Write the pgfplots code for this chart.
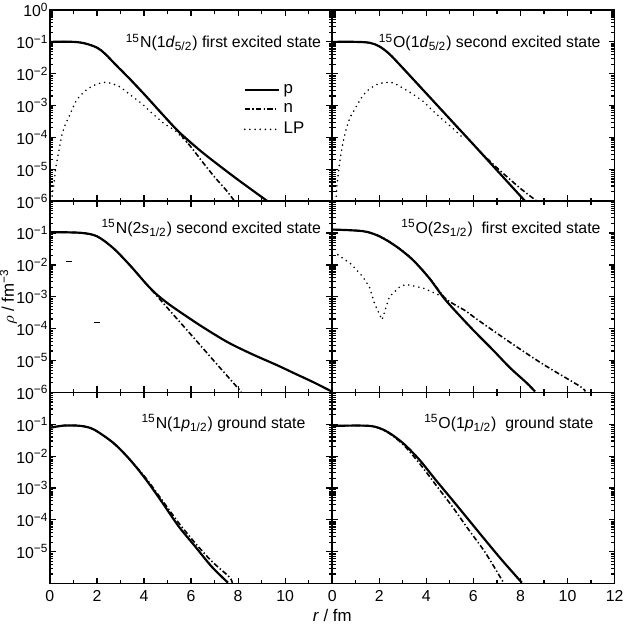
\documentclass[border=0pt]{standalone}
\usepackage{fontspec}
\setmainfont{Liberation Sans}
\usepackage{pgfplots}
\pgfplotsset{compat=1.18}
\usepgfplotslibrary{groupplots}

\newcommand{\tl}[1]{10\textsuperscript{#1}}

\pgfplotsset{
  panel/.style={
    width=142.5pt, height=96.5pt, scale only axis,
    xmin=0, xmax=12, ymode=log, ymin=1e-6, ymax=1,
    xtick={0,2,...,12}, minor x tick num=1,
    ytick={1e-6,1e-5,1e-4,1e-3,1e-2,1e-1,1},
    tick align=inside, major tick length=3pt, minor tick length=1.8pt,
    axis line style={line width=0.8pt},
    every tick/.style={black, line width=0.6pt},
    tick label style={font=\fontsize{8}{10}\selectfont},
    yticklabel style={xshift=1pt, inner sep=1.5pt},
    /pgf/number format/assume math mode=true,
  },
  pp/.style={black, line width=1.1pt, smooth},
  nn/.style={black, line width=0.8pt, smooth, dash pattern=on 2.6pt off 1.2pt on 0.7pt off 1.2pt},
  lp/.style={black, line width=0.9pt, line cap=round, dash pattern=on 0pt off 2.6pt},
}
\tikzset{ttl/.style={anchor=east, font=\fontsize{8}{10}\selectfont}}

\begin{document}
\begin{tikzpicture}
\begin{groupplot}[group style={group size=2 by 3, horizontal sep=0pt, vertical sep=0pt}, panel]

% 15N 1d5/2
\nextgroupplot[xticklabels={},
  yticklabels={\tl{−6},\tl{−5},\tl{−4},\tl{−3},\tl{−2},\tl{−1},\tl{0}},
  legend style={draw=none, fill=none, at={(rel axis cs:0.685,0.635)}, anchor=north west,
    font=\fontsize{8.5}{10}\selectfont, row sep=-0.5pt, inner sep=0pt},
  legend cell align=left]
\addplot[pp] coordinates {(0,1.00e-1) (1.0,1.00e-1) (1.5,8.91e-2) (2.0,6.61e-2) (2.34,4.27e-2)
  (2.8,1.91e-2) (3.38,7.08e-3) (4.08,2.00e-3) (4.78,5.37e-4) (5.48,1.51e-4) (6.32,4.27e-5)
  (7.0,1.70e-5) (8.0,4.68e-6) (9.25,1.0e-6)};
\addplot[nn] coordinates {(0,1.00e-1) (1.0,1.00e-1) (1.5,8.91e-2) (2.0,6.61e-2) (2.34,4.27e-2)
  (2.8,1.91e-2) (3.38,7.08e-3) (4.08,2.00e-3) (4.78,5.37e-4) (5.48,1.45e-4) (6.0,5.01e-5)
  (6.5,1.66e-5) (7.0,5.75e-6) (7.5,2.19e-6) (7.85,1.0e-6)};
\addplot[lp, smooth] coordinates {(0.08,1.0e-6) (0.12,2.09e-6) (0.17,3.16e-6) (0.24,1.0e-5)
  (0.38,3.80e-5) (0.52,1.26e-4) (0.66,2.63e-4) (0.8,4.27e-4) (1.08,1.26e-3) (1.29,2.04e-3)
  (1.6,3.31e-3) (1.99,4.68e-3) (2.4,5.37e-3) (2.9,4.17e-3) (3.17,3.02e-3) (3.66,1.58e-3)
  (3.94,1.10e-3) (4.36,5.62e-4) (4.85,2.75e-4) (5.34,1.58e-4) (5.83,6.92e-5)};
\legend{p,n,LP}
\node[ttl] at (rel axis cs:0.985,0.83) {\textsuperscript{15}N(1\textit{d}\textsubscript{5/2}) first excited state};

% 15O 1d5/2
\nextgroupplot[xticklabels={}, yticklabels={}]
\addplot[pp] coordinates {(0,1.0e-1) (1.0,1.0e-1) (1.6,9.33e-2) (2.0,7.24e-2) (2.43,4.17e-2)
  (3.0,1.51e-2) (4.0,2.40e-3) (5.0,3.80e-4) (6.0,6.03e-5) (7.0,9.33e-6) (8.2,1.0e-6)};
\addplot[nn] coordinates {(0,1.0e-1) (1.0,1.0e-1) (1.6,9.33e-2) (2.0,7.24e-2) (2.43,4.17e-2)
  (3.0,1.51e-2) (4.0,2.40e-3) (5.0,3.80e-4) (6.0,6.03e-5) (6.5,2.51e-5) (7.0,1.12e-5)
  (7.5,5.25e-6) (8.0,2.51e-6) (8.7,1.0e-6)};
\addplot[lp, smooth] coordinates {(0.12,1.0e-6) (0.17,1.45e-6) (0.2,3.02e-6) (0.28,1.0e-5)
  (0.38,3.39e-5) (0.52,1.12e-4) (0.66,2.63e-4) (0.76,4.27e-4) (1.16,1.41e-3) (1.3,2.04e-3)
  (1.58,3.31e-3) (2.0,4.90e-3) (2.5,5.37e-3) (2.72,4.68e-3) (3.42,2.29e-3) (3.92,1.26e-3)
  (4.13,8.71e-4) (4.63,3.98e-4) (5.12,1.95e-4) (5.54,1.0e-4)};
\node[ttl] at (rel axis cs:0.975,0.83) {\textsuperscript{15}O(1\textit{d}\textsubscript{5/2}) second excited state};

% 15N 2s1/2
\nextgroupplot[xticklabels={},
  yticklabels={\tl{−6},\tl{−5},\tl{−4},\tl{−3},\tl{−2},\tl{−1},{}},
  ylabel={$\rho$ / fm\textsuperscript{−3}}, ylabel style={font=\fontsize{8.5}{10}\selectfont, inner sep=0pt, yshift=-2pt}]
\addplot[pp] coordinates {(0,1.07e-1) (1.3,1.02e-1) (2.0,7.94e-2) (2.69,3.39e-2) (3.39,1.0e-2)
  (4.09,2.57e-3) (4.5,1.26e-3) (5.0,6.31e-4) (5.62,3.02e-4) (6.5,1.12e-4) (7.57,3.72e-5)
  (8.6,1.58e-5) (9.67,7.08e-6) (10.36,4.07e-6) (11.2,2.09e-6) (12,1.05e-6)};
\addplot[nn] coordinates {(0,1.07e-1) (1.3,1.02e-1) (2.0,7.94e-2) (2.69,3.39e-2) (3.39,1.0e-2)
  (4.09,2.57e-3) (4.5,1.17e-3) (5.2,3.02e-4) (6.18,4.57e-5) (7.02,8.91e-6) (7.57,3.09e-6)
  (8.13,1.05e-6)};
\addplot[only marks, mark=-, mark size=1.3pt, black] coordinates {(0.81,1.26e-2) (2.0,1.58e-4)};
\node[ttl] at (rel axis cs:0.985,0.86) {\textsuperscript{15}N(2\textit{s}\textsubscript{1/2}) second excited state};

% 15O 2s1/2
\nextgroupplot[xticklabels={}, yticklabels={}]
\addplot[pp] coordinates {(0,1.29e-1) (1.3,1.15e-1) (2.0,7.94e-2) (2.72,3.80e-2) (3.42,1.45e-2)
  (4.13,3.80e-3) (4.77,8.71e-4) (5.54,2.04e-4) (6.12,7.24e-5) (6.87,2.0e-5) (7.56,5.89e-6)
  (8.26,2.0e-6) (8.62,1.07e-6)};
\addplot[nn] coordinates {(0,1.29e-1) (1.3,1.15e-1) (2.0,8.13e-2) (2.72,3.89e-2) (3.42,1.48e-2)
  (4.13,3.89e-3) (4.77,9.55e-4) (5.26,5.37e-4) (5.69,3.55e-4) (6.14,2.0e-4) (7.56,3.72e-5)
  (8.97,7.59e-6) (10.53,1.55e-6) (10.75,1.07e-6)};
\addplot[lp] coordinates {(0.24,2.09e-2) (0.8,1.07e-2) (1.3,4.27e-3) (1.58,2.04e-3) (1.8,6.03e-4)
  (2.12,1.91e-4) (2.36,6.92e-4) (2.43,1.0e-3) (2.86,2.04e-3) (3.14,2.45e-3) (3.85,1.91e-3)
  (4.41,1.26e-3) (4.77,9.33e-4)};
\node[ttl] at (rel axis cs:0.975,0.86) {\textsuperscript{15}O(2\textit{s}\textsubscript{1/2})~ first excited state};

% 15N 1p1/2
\nextgroupplot[xticklabels={0,2,4,6,8,10,{}},
  yticklabels={{},\tl{−5},\tl{−4},\tl{−3},\tl{−2},\tl{−1},{}}]
\addplot[pp] coordinates {(0,7.76e-2) (0.6,9.12e-2) (1.3,8.91e-2) (1.86,6.92e-2) (2.69,2.63e-2)
  (3.39,7.94e-3) (4.09,1.82e-3) (4.79,3.39e-4) (5.48,6.17e-5) (6.18,1.45e-5) (6.88,3.39e-6)
  (7.57,1.07e-6)};
\addplot[nn] coordinates {(0,7.76e-2) (0.6,9.12e-2) (1.3,8.91e-2) (1.86,6.92e-2) (2.69,2.63e-2)
  (3.39,7.94e-3) (4.09,2.0e-3) (4.79,3.98e-4) (5.48,7.94e-5) (6.18,1.86e-5) (6.88,5.01e-6)
  (7.64,1.58e-6) (7.75,1.0e-6)};
\node[ttl] at (rel axis cs:0.93,0.84) {\textsuperscript{15}N(1\textit{p}\textsubscript{1/2}) ground state};

% 15O 1p1/2
\nextgroupplot[yticklabels={}]
\addplot[pp] coordinates {(0,8.91e-2) (1.58,8.91e-2) (2.28,6.17e-2) (2.99,2.63e-2) (3.69,7.94e-3)
  (4.39,1.82e-3) (5.1,4.27e-4) (5.8,1.0e-4) (6.5,2.34e-5) (7.21,5.50e-6) (8.06,1.07e-6)};
\addplot[nn] coordinates {(0,8.91e-2) (1.58,8.91e-2) (2.28,6.03e-2) (2.99,2.40e-2) (3.69,6.17e-3)
  (4.39,1.29e-3) (5.1,2.63e-4) (5.8,4.90e-5) (6.5,9.55e-6) (7.28,1.07e-6)};
\node[ttl] at (rel axis cs:0.95,0.84) {\textsuperscript{15}O(1\textit{p}\textsubscript{1/2})~ ground state};

\end{groupplot}
\node[font=\fontsize{8.5}{10}\selectfont] at ([yshift=-16pt]group c1r3.south east) {\textit{r} / fm};
\end{tikzpicture}
\end{document}
